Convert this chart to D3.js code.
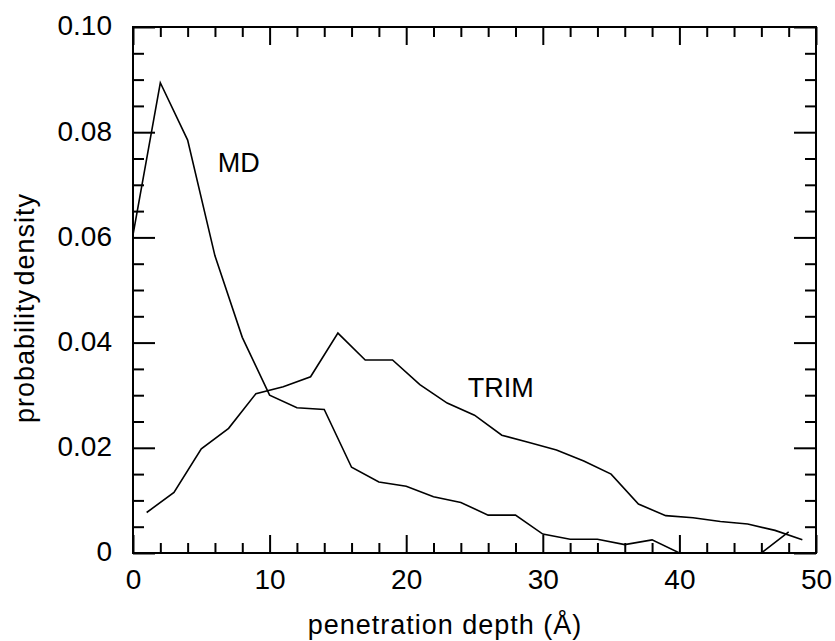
<!DOCTYPE html>
<html>
<head>
<meta charset="utf-8">
<script src="https://cdn.jsdelivr.net/npm/d3@7"></script>
<style>
  body { margin: 0; background: #fff; }
  svg text { font-family: "Liberation Sans", Arial, Helvetica, sans-serif; fill: #000; }
</style>
</head>
<body>
<div id="chart"></div>
<script>
// MD curve, every 2 A
var mdDepth   = [0, 2, 4, 6, 8, 10, 12, 14, 16, 18, 20, 22, 24, 26, 28, 30, 32, 34, 36, 38, 40, 42, 44, 46, 48];
var mdDensity = [0.0605, 0.0894, 0.0785, 0.0565, 0.0410, 0.0300, 0.0276, 0.0273, 0.0163, 0.0135, 0.0127, 0.0107,
                 0.0096, 0.0072, 0.0072, 0.0036, 0.0026, 0.0026, 0.0016, 0.0025, 0.0, 0.0, 0.0, 0.0, 0.0040];

// TRIM curve, odd depths
var trimDepth   = [1, 3, 5, 7, 9, 11, 13, 15, 17, 19, 21, 23, 25, 27, 29, 31, 33, 35, 37, 39, 41, 43, 45, 47, 49];
var trimDensity = [0.0077, 0.0115, 0.0198, 0.0237, 0.0303, 0.0316, 0.0335, 0.0418, 0.0367, 0.0367, 0.0320, 0.0285,
                   0.0262, 0.0224, 0.0210, 0.0196, 0.0175, 0.0150, 0.0093, 0.0071, 0.0067, 0.0060, 0.0055, 0.0043, 0.0025];

var xMajorTicks = [0, 10, 20, 30, 40, 50];
var xMinorTicks = [2, 4, 6, 8, 12, 14, 16, 18, 22, 24, 26, 28, 32, 34, 36, 38, 42, 44, 46, 48];
var yMajorTicks = [0, 0.02, 0.04, 0.06, 0.08, 0.10];
var yTickLabels = ["0", "0.02", "0.04", "0.06", "0.08", "0.10"];
var yMinorTicks = [0.005, 0.01, 0.015, 0.025, 0.03, 0.035, 0.045, 0.05, 0.055, 0.065, 0.07, 0.075, 0.085, 0.09, 0.095];

var labelNames = ["MD", "TRIM"];
var labelDepth = [6.2, 24.5];
var labelDensity = [0.0724, 0.0297];

var width = 835, height = 641;
var margin = {top: 27, right: 19, bottom: 88, left: 133};

var svg = d3.select("#chart").append("svg")
    .attr("width", width)
    .attr("height", height);

var x = d3.scaleLinear().domain([0, 50]).range([margin.left, width - margin.right]);
var y = d3.scaleLinear().domain([0, 0.10]).range([height - margin.bottom, margin.top]);

var fontSize = 28;

function styleAxis(g) {
    g.select(".domain").remove();
    g.selectAll(".tick line").attr("stroke", "#000").attr("stroke-width", 2);
}

// bottom
svg.append("g")
    .attr("transform", "translate(0," + y(0) + ")")
    .call(d3.axisBottom(x).tickValues(xMajorTicks).tickSize(-18).tickFormat(d3.format("d")))
    .call(styleAxis)
    .call(function(g) {
        g.selectAll("text").attr("y", 36).attr("dy", null)
            .style("font-size", fontSize + "px");
    });
svg.append("g")
    .attr("transform", "translate(0," + y(0) + ")")
    .call(d3.axisBottom(x).tickValues(xMinorTicks).tickSize(-10).tickFormat(""))
    .call(styleAxis);

// top
svg.append("g")
    .attr("transform", "translate(0," + y(0.10) + ")")
    .call(d3.axisTop(x).tickValues(xMajorTicks).tickSize(-18).tickFormat(""))
    .call(styleAxis);
svg.append("g")
    .attr("transform", "translate(0," + y(0.10) + ")")
    .call(d3.axisTop(x).tickValues(xMinorTicks).tickSize(-10).tickFormat(""))
    .call(styleAxis);

// left
svg.append("g")
    .attr("transform", "translate(" + x(0) + ",0)")
    .call(d3.axisLeft(y).tickValues(yMajorTicks).tickSize(-22)
        .tickFormat(function(d, i) { return yTickLabels[i]; }))
    .call(styleAxis)
    .call(function(g) {
        g.selectAll("text").attr("x", -21).attr("dy", "0.28em")
            .style("font-size", fontSize + "px");
    });
svg.append("g")
    .attr("transform", "translate(" + x(0) + ",0)")
    .call(d3.axisLeft(y).tickValues(yMinorTicks).tickSize(-11).tickFormat(""))
    .call(styleAxis);

// right
svg.append("g")
    .attr("transform", "translate(" + x(50) + ",0)")
    .call(d3.axisRight(y).tickValues(yMajorTicks).tickSize(-22).tickFormat(""))
    .call(styleAxis);
svg.append("g")
    .attr("transform", "translate(" + x(50) + ",0)")
    .call(d3.axisRight(y).tickValues(yMinorTicks).tickSize(-11).tickFormat(""))
    .call(styleAxis);

// frame
svg.append("rect")
    .attr("x", x(0))
    .attr("y", y(0.10))
    .attr("width", x(50) - x(0))
    .attr("height", y(0) - y(0.10))
    .attr("fill", "none")
    .attr("stroke", "#000")
    .attr("stroke-width", 2);

var line = d3.line()
    .x(function(d) { return x(d[0]); })
    .y(function(d) { return y(d[1]); });

var md = mdDepth.map(function(d, i) { return [d, mdDensity[i]]; });
var trim = trimDepth.map(function(d, i) { return [d, trimDensity[i]]; });

svg.append("path")
    .datum(md)
    .attr("d", line)
    .attr("fill", "none")
    .attr("stroke", "#000")
    .attr("stroke-width", 1.6);

svg.append("path")
    .datum(trim)
    .attr("d", line)
    .attr("fill", "none")
    .attr("stroke", "#000")
    .attr("stroke-width", 1.6);

// curve labels
svg.selectAll(".curve-label")
    .data(labelNames)
    .enter().append("text")
    .attr("class", "curve-label")
    .attr("x", function(d, i) { return x(labelDepth[i]); })
    .attr("y", function(d, i) { return y(labelDensity[i]); })
    .style("font-size", "27px")
    .text(function(d) { return d; });

// axis titles
svg.append("text")
    .attr("x", 445)
    .attr("y", 634)
    .attr("text-anchor", "middle")
    .style("font-size", "27px")
    .style("letter-spacing", "1px")
    .text("penetration depth (Å)");

svg.append("text")
    .attr("transform", "translate(34,308) rotate(-90)")
    .attr("text-anchor", "middle")
    .style("font-size", "27px")
    .style("letter-spacing", "1px")
    .style("word-spacing", "-5px")
    .text("probability density");
</script>
</body>
</html>
